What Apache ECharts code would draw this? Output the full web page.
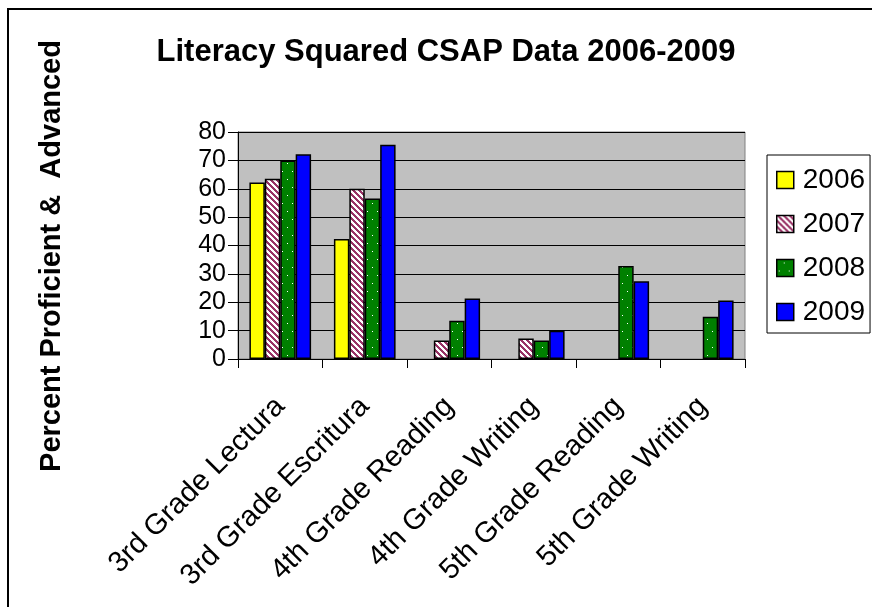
<!DOCTYPE html>
<html><head><meta charset="utf-8">
<script src="https://cdn.jsdelivr.net/npm/echarts@6/dist/echarts.min.js"></script>
<style>html,body{margin:0;padding:0;background:#fff}#c{width:872px;height:607px}</style>
</head><body><div id="c"></div>
<script>
const categories = ['3rd Grade Lectura','3rd Grade Escritura','4th Grade Reading','4th Grade Writing','5th Grade Reading','5th Grade Writing'];
const years = ['2006','2007','2008','2009'];
const v2006 = [62.2, 42.3, null, null, null, null];
const v2007 = [63.5, 60, 6.5, 7.2, null, null];
const v2008 = [70, 56.6, 13.5, 6.5, 32.8, 14.9];
const v2009 = [72.2, 75.5, 21.3, 10, 27.4, 20.6];
const yTicks = {min: 0, max: 80, step: 10};
const titleText = 'Literacy Squared CSAP Data 2006-2009';
const yName = 'Percent Proficient &  Advanced';

function stripePattern() {
  const c = document.createElement('canvas'); c.width = 6; c.height = 6;
  const g = c.getContext('2d'); const img = g.createImageData(6, 6);
  for (let y = 0; y < 6; y++) for (let x = 0; x < 6; x++) {
    const i = (y * 6 + x) * 4; const on = (((x - y) % 6) + 6) % 6 < 3;
    img.data[i] = on ? 0x99 : 255; img.data[i+1] = on ? 0x33 : 255; img.data[i+2] = on ? 0x66 : 255; img.data[i+3] = 255;
  }
  g.putImageData(img, 0, 0); return c;
}
function dotPattern() {
  const c = document.createElement('canvas'); c.width = 10; c.height = 16;
  const g = c.getContext('2d'); g.fillStyle = '#008000'; g.fillRect(0, 0, 10, 16);
  g.fillStyle = '#ffffff'; g.fillRect(7, 3, 1, 1); g.fillRect(2, 11, 1, 1);
  return c;
}
const fills = ['#ffff00', {image: stripePattern(), repeat: 'repeat'}, {image: dotPattern(), repeat: 'repeat'}, '#0000ff'];
const values = [v2006, v2007, v2008, v2009];

const chart = echarts.init(document.getElementById('c'), null, {renderer: 'canvas'});
const font = 'Liberation Sans, Arial, sans-serif';
chart.setOption({
  animation: false,
  backgroundColor: '#ffffff',
  textStyle: {fontFamily: font},
  grid: {left: 238, top: 132, right: 127, bottom: 248, show: true, backgroundColor: '#c0c0c0', borderColor: '#808080', borderWidth: 1},
  legend: {
    orient: 'vertical', left: 767, top: 155, data: years,
    backgroundColor: '#ffffff', borderColor: '#000000', borderWidth: 1, borderRadius: 0,
    padding: [11, 5, 7, 9], itemGap: 16, itemWidth: 17, itemHeight: 17, itemStyle: {borderColor: '#000', borderWidth: 1.5},
    textStyle: {fontSize: 28, color: '#000', fontFamily: font, padding: [0, 0, 0, 4]}, icon: 'rect', selectedMode: false
  },
  xAxis: {
    type: 'category', data: categories,
    axisLine: {lineStyle: {color: '#000', width: 1}},
    axisTick: {show: true, length: 9, lineStyle: {color: '#000'}},
    axisLabel: {rotate: 45, fontSize: 29, color: '#000', margin: 43, fontFamily: font, interval: 0}
  },
  yAxis: {
    type: 'value', min: yTicks.min, max: yTicks.max, interval: yTicks.step,
    axisLine: {show: true, lineStyle: {color: '#000', width: 1}},
    axisTick: {show: true, length: 10, lineStyle: {color: '#000'}},
    axisLabel: {fontSize: 25, color: '#000', margin: 12, fontFamily: font},
    splitLine: {show: true, lineStyle: {color: '#000', width: 1}}
  },
  series: years.map((y, k) => ({
    name: y, type: 'bar', data: values[k], barGap: '0%', barCategoryGap: '27%',
    itemStyle: {color: fills[k], borderColor: '#000', borderWidth: 1.5}
  })),
  graphic: [
    {type: 'rect', shape: {x: 8, y: 9, width: 1000, height: 1000}, style: {fill: 'none', stroke: '#000', lineWidth: 2}, silent: true, z: 100},
    {type: 'text', x: 446, y: 52, style: {text: titleText, font: 'bold 31px ' + font, fill: '#000', textAlign: 'center', textVerticalAlign: 'middle'}},
    {type: 'text', x: 52, y: 256, rotation: Math.PI / 2, style: {text: yName, font: 'bold 29px ' + font, fill: '#000', textAlign: 'center', textVerticalAlign: 'middle'}}
  ]
});
</script></body></html>
